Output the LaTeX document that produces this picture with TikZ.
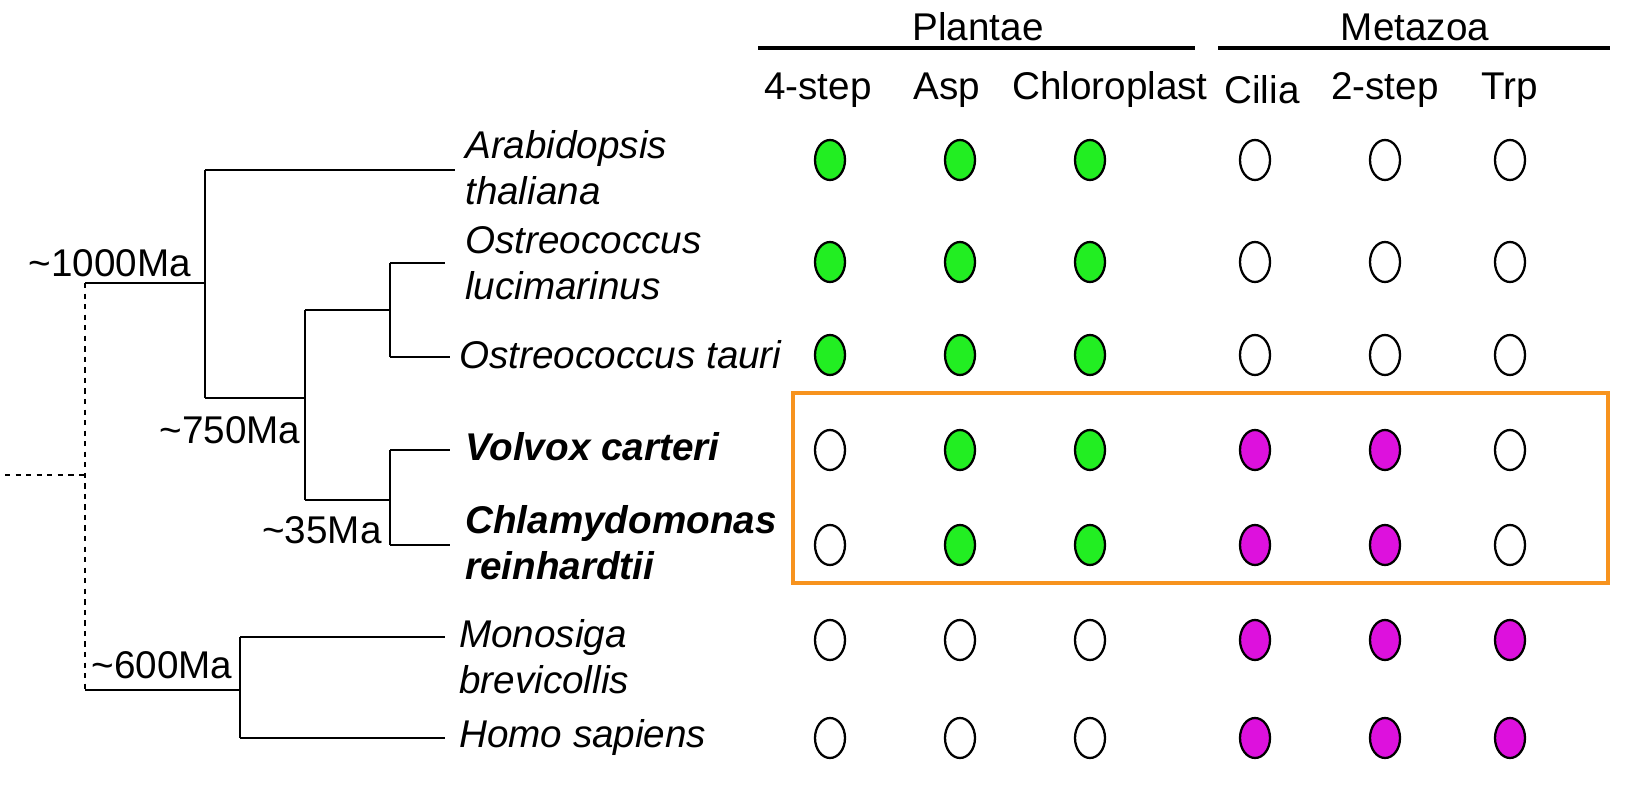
\documentclass[tikz,border=0pt]{standalone}
\usepackage{fontspec}
\setmainfont{Liberation Sans}
\usetikzlibrary{shapes.geometric}
\definecolor{leafgreen}{HTML}{22EE22}
\definecolor{cilmag}{HTML}{DD11DD}
\definecolor{boxorange}{HTML}{F7931E}
\begin{document}
\begin{tikzpicture}[x=0.02cm,y=-0.02cm,
	line width=1.6pt,
	font=\fontsize{22}{26}\selectfont
]
\tikzset{
    dot/.style = {ellipse, draw=black, line width=1.3pt, minimum width=0.6cm, minimum height=0.8cm, inner sep=0pt},
    g/.style = {dot, fill=leafgreen},
    w/.style = {dot, fill=white},
    m/.style = {dot, fill=cilmag},
    species/.style = {anchor=west, align=left, font=\fontsize{22}{26}\selectfont\itshape},
    age/.style = {font=\fontsize{22}{26}\selectfont},
}
\useasboundingbox (0,0) rectangle (1636,800);
% tree
\coordinate (root) at (5,475);
\coordinate (r) at (85,475);
\draw[dashed] (root) -- (r);
\draw[dashed] (85,283) -- (85,690);
\draw (85,283) -- (205,283);
\draw (205,170) -- (205,398);
\draw (205,170) -- (455,170);
\draw (205,398) -- (305,398);
\draw (305,310) -- (305,500);
\draw (305,310) -- (390,310);
\draw (390,263) -- (390,357);
\draw (390,263) -- (445,263);
\draw (390,357) -- (450,357);
\draw (305,500) -- (390,500);
\draw (390,450) -- (390,545);
\draw (390,450) -- (450,450);
\draw (390,545) -- (450,545);
\draw (85,690) -- (240,690);
\draw (240,637) -- (240,738);
\draw (240,637) -- (445,637);
\draw (240,738) -- (445,738);
\node[age] (a1000) at (110,263) {\textasciitilde1000Ma};
\node[age] (a750) at (230,430) {\textasciitilde750Ma};
\node[age] (a35) at (322,530) {\textasciitilde35Ma};
\node[age] (a600) at (162,665) {\textasciitilde600Ma};
% species
\node[species] (ath) at (458,168) {Arabidopsis\\thaliana};
\node[species] (olu) at (458,263) {Ostreococcus\\lucimarinus};
\node[species] (ota) at (452,355) {Ostreococcus tauri};
\node[species, font=\fontsize{22}{26}\selectfont\itshape\bfseries] (vca) at (458,447) {Volvox carteri};
\node[species, font=\fontsize{22}{26}\selectfont\itshape\bfseries] (cre) at (458,543) {Chlamydomonas\\reinhardtii};
\node[species] (mbr) at (452,657) {Monosiga\\brevicollis};
\node[species] (hsa) at (452,738) {Homo sapiens};
% headers
\node (plantae) at (978,27) {Plantae};
\node (metazoa) at (1415,27) {Metazoa};
\draw[line width=2.2pt] (758,48) -- (1195,48);
\draw[line width=2.2pt] (1218,48) -- (1610,48);
\node (h1) at (818,90) {4-step};
\node (h2) at (947,90) {Asp};
\node (h3) at (1110,90) {Chloroplast};
\node (h4) at (1262,90) {Cilia};
\node (h5) at (1385,90) {2-step};
\node (h6) at (1510,90) {Trp};
% presence dots
\foreach \y/\row in {160/{g,g,g,w,w,w}, 262/{g,g,g,w,w,w}, 355/{g,g,g,w,w,w},
                     450/{w,g,g,m,m,w}, 545/{w,g,g,m,m,w},
                     640/{w,w,w,m,m,m}, 738/{w,w,w,m,m,m}} {
  \foreach \s [count=\i] in \row {
    \pgfmathsetmacro{\xx}{{0,830,960,1090,1255,1385,1510}[\i]}
    \node[\s] (d-\y-\i) at (\xx,\y) {};
  }
}
\draw[boxorange, line width=2.8pt] (793,393) rectangle (1608,583);
\end{tikzpicture}
\end{document}
